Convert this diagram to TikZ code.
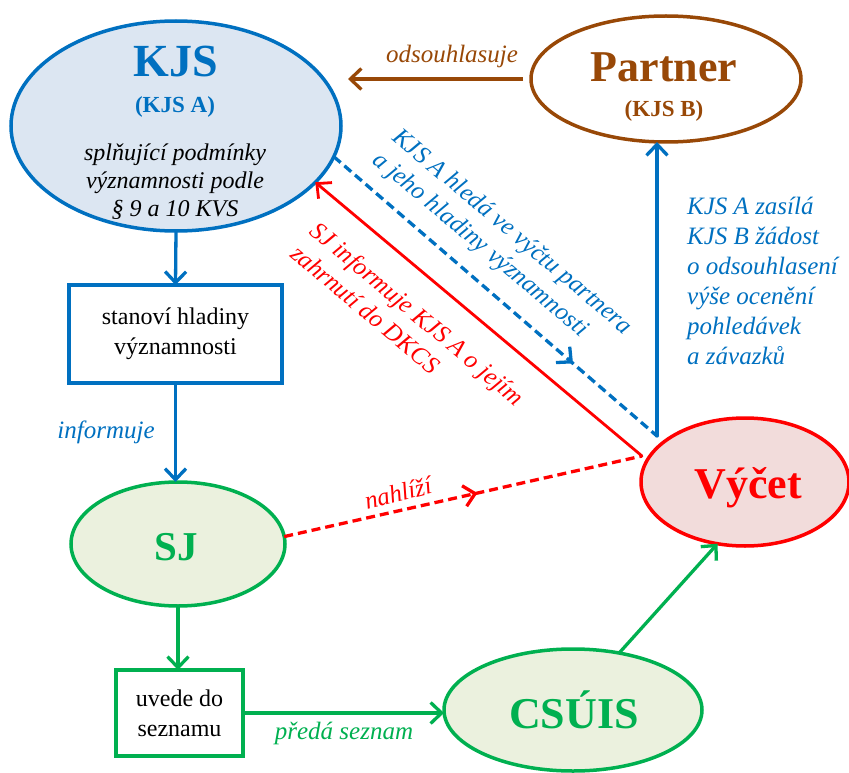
\documentclass[tikz,border=0pt]{standalone}
\usepackage{fontspec}
\setmainfont{LiberationSerif}[Extension=.ttf, UprightFont=*-Regular, BoldFont=*-Bold, ItalicFont=*-Italic, BoldItalicFont=*-BoldItalic]
\usetikzlibrary{arrows.meta,shapes.geometric,decorations.markings}
\definecolor{cblue}{HTML}{0070C0}
\definecolor{cbrown}{HTML}{984807}
\definecolor{cgreen}{HTML}{00B050}
\definecolor{cred}{HTML}{FF0000}
\definecolor{fblue}{HTML}{DCE6F2}
\definecolor{fgreen}{HTML}{EBF1DE}
\definecolor{fred}{HTML}{F2DCDB}
\tikzset{
  ell/.style={ellipse, line width=3.5pt, inner sep=0pt, outer sep=0pt},
  boxn/.style={rectangle, line width=3.2pt, align=center, inner sep=0pt, outer sep=0pt,
    font=\fontsize{24}{30}\selectfont},
  tipb/.tip={Straight Barb[length=11pt,width=21pt]},
  conn/.style={line width=3.3pt, -tipb},
  midarrow/.style={postaction={decorate}, decoration={markings,
    mark=at position #1 with {\arrow{tipb}}}},
  big/.style={font=\fontsize{44}{48}\selectfont\bfseries, anchor=base, inner sep=0pt},
  sub/.style={font=\fontsize{23}{26}\selectfont\bfseries, anchor=base, inner sep=0pt},
  lab/.style={font=\fontsize{25}{30}\selectfont\itshape, inner sep=0pt},
}
\begin{document}
\begin{tikzpicture}[x=1pt,y=-1pt]
\useasboundingbox (0,0) rectangle (849,773);

% ellipses
\node[ell, draw=cblue, fill=fblue, minimum width=330pt, minimum height=210pt] (kjs) at (176,126) {};
\node[ell, draw=cbrown, fill=white, minimum width=270pt, minimum height=126pt] (partner) at (666,79) {};
\node[ell, draw=cgreen, fill=fgreen, minimum width=214pt, minimum height=124pt] (sj) at (178,544) {};
\node[ell, draw=cgreen, fill=fgreen, minimum width=258pt, minimum height=122pt] (csuis) at (573,710) {};
\node[ell, draw=cred, fill=fred, minimum width=208pt, minimum height=128pt] (vycet) at (745,482) {};

% boxes
\node[boxn, draw=cblue, minimum width=213pt, minimum height=98pt] (box1) at (175.5,334) {stanoví hladiny\\významnosti};
\node[boxn, draw=cgreen, minimum width=127pt, minimum height=86pt] (box2) at (179.5,713) {uvede do\\seznamu};

% texts in ellipses
\node[big, font=\fontsize{46}{50}\selectfont\bfseries, text=cblue] (tkjs) at (176,77) {KJS};
\node[sub, text=cblue] (tkjsa) at (175,113) {(KJS A)};
\node[font=\fontsize{24}{28}\selectfont\itshape, align=center, inner sep=0pt] (tkjsb) at (175,182)
  {splňující podmínky\\významnosti podle\\§ 9 a 10 KVS};
\node[big, text=cbrown] (tpartner) at (664,82) {Partner};
\node[sub, text=cbrown] (tkjsb2) at (664,117) {(KJS B)};
\node[big, font=\fontsize{41}{45}\selectfont\bfseries, text=cgreen] (tsj) at (176,560) {SJ};
\node[big, text=cgreen] (tcsuis) at (574,728) {CSÚIS};
\node[big, text=cred] (tvycet) at (748,498) {Výčet};

% connectors
\coordinate (bc) at (657,436);
\coordinate (rc) at (642,456);

\draw[conn, draw=cblue] (kjs.south) -- (box1.north);
\draw[conn, draw=cblue] (box1.south) -- (box1.south |- sj.north);
\draw[conn, draw=cgreen] (sj.south) -- (sj.south |- box2.north);
\draw[conn, draw=cgreen] (box2.east) -- (box2.east -| csuis.west);
\draw[conn, draw=cgreen] (csuis.51) -- (vycet.-114);
\draw[conn, draw=cbrown, shorten <=8pt, shorten >=7pt] (partner.west) -- (partner.west -| kjs.east);
\draw[line width=3.3pt, draw=cblue, dash pattern=on 9pt off 5pt, midarrow=0.74] (kjs.-11) -- (bc);
\draw[conn, draw=cblue, line cap=round] (bc) -- (bc |- partner.south);
\draw[line width=3.3pt, draw=cred, dash pattern=on 9pt off 5pt, midarrow=0.54] (sj.4) -- (rc);
\draw[conn, draw=cred, line width=2.8pt, line cap=round] (rc) -- (kjs.-22);

% labels
\node[lab, text=cbrown, anchor=base] (lodsouhlas) at (452,63) {odsouhlasuje};
\node[lab, text=cblue, anchor=base] (linform) at (106,438) {informuje};
\node[lab, text=cgreen, anchor=base] (lpreda) at (344,739) {předá seznam};
\node[lab, text=cred, rotate=14] (lnahlizi) at (398,493) {nahlíží};
\node[lab, text=cblue, rotate=-40, align=left] (lhleda) at (502,244)
  {KJS A hledá ve výčtu partnera\\a jeho hladiny významnosti};
\node[lab, text=cred, rotate=-40, align=left] (lsjinf) at (408,325)
  {SJ informuje KJS A o jejím\\zahrnutí do DKCS};
\node[lab, text=cblue, anchor=west, align=left] (lzasila) at (687,281)
  {KJS A zasílá\\KJS B žádost\\o odsouhlasení\\výše ocenění\\pohledávek\\a závazků};
\end{tikzpicture}
\end{document}
